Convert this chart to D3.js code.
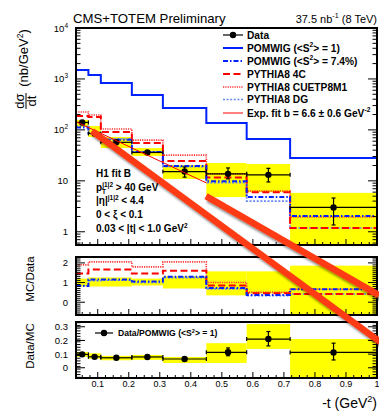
<!DOCTYPE html>
<html><head><meta charset="utf-8">
<script src="https://cdn.jsdelivr.net/npm/d3@7"></script>
<style>
body{margin:0;background:#fff}
svg{display:block}
text{font-family:"Liberation Sans",Arial,Helvetica,sans-serif;fill:#000}
</style>
</head><body>
<svg id="c" width="379" height="414"></svg>
<script>
// ---------------- DATA ----------------
const binEdges   = [0.03,0.07,0.11,0.21,0.31,0.45,0.58,0.72,1.0];
const binCenters = [0.05,0.09,0.16,0.26,0.38,0.52,0.65,0.86];

// main panel: d sigma / dt (nb/GeV^2)
const dataXsec  = [140, 85, 57, 36, 15.2, 13.7, 13.1, 3.0];
const dataErrLo = [132, 80, 54, 33.5, 11.8, 10.9, 9.5, 1.36];
const dataErrHi = [149, 91, 60.5, 39, 18.7, 17.9, 17.6, 4.6];
const sysLo     = [114, 72.6, 44, 30.8, 10.9, 4.8, 6.0, 0.3];
const sysHi     = [157, 119, 72.6, 44, 20.5, 22.4, 21.4, 5.8];
const pomwig1   = [1500, 1197, 832, 485, 269, 137, 66, 28];
const pomwig074 = [112, 88, 64, 37, 19.6, 9.8, 4.8, 2.05];
const py4C      = [188, 180, 91, 55, 24.5, 11.6, 6.0, 1.19];
const pyCUETP   = [225, 196, 104, 63, 32, 13.7, 6.3, 1.95];
const pyDG      = [118, 84, 67, 37, 19, 9.2, 4.0, 1.19];
const fitT      = [0.03, 0.45];
const fitV      = [145, 9.1];

// MC / Data panel
const rPomwig074 = [0.82, 1.15, 1.15, 1.05, 1.3, 0.72, 0.37, 0.66];
const rPy4C      = [1.46, 1.67, 1.67, 1.46, 1.6, 0.85, 0.46, 0.42];
const rPyCUETP   = [1.9, 2.05, 2.05, 1.8, 2.05, 1.0, 0.5, 0.66];
const rPyDG      = [0.85, 1.1, 1.12, 1.0, 1.25, 0.68, 0.33, 0.42];
const rSysLo     = [0.8, 0.8, 0.8, 0.85, 0.7, 0.35, 0.45, -1.0];
const rSysHi     = [1.2, 1.26, 1.26, 1.2, 1.32, 1.57, 1.57, 1.86];

// Data / POMWIG panel
const dmVal   = [0.098, 0.08, 0.073, 0.079, 0.064, 0.113, 0.21, 0.112];
const dmErrLo = [0.091, 0.074, 0.068, 0.074, 0.058, 0.088, 0.16, 0.057];
const dmErrHi = [0.105, 0.086, 0.078, 0.084, 0.07, 0.145, 0.265, 0.18];
const dmSysLo = [0.08, 0.066, 0.055, 0.058, 0.035, 0.035, 0.138, -0.2];
const dmSysHi = [0.116, 0.106, 0.087, 0.094, 0.079, 0.18, 0.32, 0.21];

// annotation strokes (in main-panel data coordinates: |t|, dsigma/dt)
const strokeA = [[0.082, 95], [1.01, 0.0069]];
const strokeB = [[0.449, 5.0], [1.006, 0.057]];

// tick labels
const xTickValues = [0.1,0.2,0.3,0.4,0.5,0.6,0.7,0.8,0.9,1.0];
const xTickLabels = ["0.1","0.2","0.3","0.4","0.5","0.6","0.7","0.8","0.9","1"];
const mainYTickValues = [1,10,100,1000,10000];
const mainYTickBase   = ["1","10","10","10","10"];
const mainYTickExp    = ["","","2","3","4"];
const ratioYTickValues = [0,1,2];
const ratioYTickLabels = ["0","1","2"];
const dmYTickValues = [0,0.1,0.2,0.3];
const dmYTickLabels = ["0","0.1","0.2","0.3"];

const legendLabels = ["Data","POMWIG (<S^{2}> = 1)","POMWIG (<S^{2}> = 7.4%)","PYTHIA8 4C","PYTHIA8 CUETP8M1","PYTHIA8 DG","Exp. fit b = 6.6 ± 0.6 GeV^{-2}"];
const annoLines = ["H1 fit B","p_{T}^{j1|2} > 40 GeV","|η|^{j1|2} < 4.4","0 < ξ < 0.1","0.03 < |t| < 1.0 GeV^{2}"];

// ---------------- LAYOUT ----------------
const X0 = 76, X1 = 377;
const M = {top:28, bot:245}, R = {top:257, bot:315}, D = {top:322, bot:378};
const x  = d3.scaleLinear().domain([0.03,1.0]).range([X0,X1]);
const yM = d3.scaleLog().domain([0.55,1e4]).range([M.bot,M.top]);
const yR = d3.scaleLinear().domain([-0.65,2.3]).range([R.bot,R.top]);
const yD = d3.scaleLinear().domain([-0.075,0.335]).range([D.bot,D.top]);

const styles = {
  pomwig1:   {stroke:"#0022ff", w:2,   dash:null},
  pomwig074: {stroke:"#0022ff", w:2,   dash:"5,2,1.5,2"},
  py4C:      {stroke:"#ff0000", w:2,   dash:"7,3.5"},
  pyCUETP:   {stroke:"#ff3030", w:1.6, dash:"1.2,1.1"},
  pyDG:      {stroke:"#6688ee", w:1.6, dash:"2,1.6"},
  fit:       {stroke:"#ff0000", w:1,   dash:null}
};
const YELLOW = "#ffff00";

const svg = d3.select("#c");
const defs = svg.append("defs");
function mkClip(id, p){
  defs.append("clipPath").attr("id",id).append("rect")
    .attr("x",X0).attr("y",p.top).attr("width",X1-X0).attr("height",p.bot-p.top);
}
mkClip("cm",M); mkClip("cr",R); mkClip("cd",D);
const f = defs.append("filter").attr("id","sh").attr("x","-20%").attr("y","-20%").attr("width","140%").attr("height","140%");
f.append("feGaussianBlur").attr("in","SourceAlpha").attr("stdDeviation",1.3).attr("result","b");
f.append("feOffset").attr("in","b").attr("dx",2).attr("dy",3).attr("result","o");
f.append("feComponentTransfer").attr("in","o").attr("result","o2").append("feFuncA").attr("type","linear").attr("slope",0.45);
const fm = f.append("feMerge"); fm.append("feMergeNode").attr("in","o2"); fm.append("feMergeNode").attr("in","SourceGraphic");

// rich text helper: ^{sup} _{sub}
function rich(sel, str, fs){
  const parts = str.split(/(\^\{[^}]*\}|_\{[^}]*\})/).filter(s=>s.length);
  let shift = 0, prevSubW = 0;
  parts.forEach(p=>{
    let t=p, target=0, size=fs, dx=0;
    if(p.startsWith("^{")){ t=p.slice(2,-1); target=-0.42*fs; size=fs*0.65; dx=-prevSubW; prevSubW=0; }
    else if(p.startsWith("_{")){ t=p.slice(2,-1); target=0.28*fs; size=fs*0.65; prevSubW=t.length*size*0.6; }
    else { prevSubW=0; }
    const ts = sel.append("tspan").attr("dy",target-shift).attr("font-size",size).text(t);
    if(dx) ts.attr("dx",dx);
    shift = target;
  });
}

function stepPts(vals){
  const pts=[]; vals.forEach((v,i)=>{pts.push([binEdges[i],v]); pts.push([binEdges[i+1],v]);}); return pts;
}
function stepLine(g, y, vals, st){
  const p = g.append("path").attr("d", d3.line().x(d=>x(d[0])).y(d=>y(d[1]))(stepPts(vals)))
    .attr("fill","none").attr("stroke",st.stroke).attr("stroke-width",st.w);
  if(st.dash) p.attr("stroke-dasharray",st.dash);
}
function bands(g, y, lo, hi){
  g.selectAll(null).data(lo).join("rect")
    .attr("x",(d,i)=>x(binEdges[i])).attr("width",(d,i)=>x(binEdges[i+1])-x(binEdges[i]))
    .attr("y",(d,i)=>y(hi[i])).attr("height",(d,i)=>y(lo[i])-y(hi[i])).attr("fill",YELLOW);
}
function points(g, y, vals, lo, hi){
  const cap=2;
  vals.forEach((v,i)=>{
    const cx=x(binCenters[i]), cy=y(v), xl=x(binEdges[i]), xr=x(binEdges[i+1]);
    g.append("line").attr("x1",xl).attr("x2",xr).attr("y1",cy).attr("y2",cy).attr("stroke","#000").attr("stroke-width",1.2);
    [xl,xr].forEach(xx=>g.append("line").attr("x1",xx).attr("x2",xx).attr("y1",cy-cap).attr("y2",cy+cap).attr("stroke","#000").attr("stroke-width",1.2));
    g.append("line").attr("x1",cx).attr("x2",cx).attr("y1",y(hi[i])).attr("y2",y(lo[i])).attr("stroke","#000").attr("stroke-width",1.2);
    [y(hi[i]),y(lo[i])].forEach(yy=>g.append("line").attr("x1",cx-cap).attr("x2",cx+cap).attr("y1",yy).attr("y2",yy).attr("stroke","#000").attr("stroke-width",1.2));
    g.append("circle").attr("cx",cx).attr("cy",cy).attr("r",3.2).attr("fill","#000");
  });
}
function frame(p){
  svg.append("rect").attr("x",X0).attr("y",p.top).attr("width",X1-X0).attr("height",p.bot-p.top)
    .attr("fill","none").attr("stroke","#000").attr("stroke-width",2);
}
function hline(x1,x2,y,w){ svg.append("line").attr("x1",x1).attr("x2",x2).attr("y1",y).attr("y2",y).attr("stroke","#000").attr("stroke-width",w||1); }
function vline(xx,y1,y2,w){ svg.append("line").attr("x1",xx).attr("x2",xx).attr("y1",y1).attr("y2",y2).attr("stroke","#000").attr("stroke-width",w||1); }
function xTicks(p){
  d3.range(0.05,1.0001,0.025).forEach(t=>{
    const major = Math.abs(t*10-Math.round(t*10))<1e-6;
    vline(x(t), p.bot, p.bot-(major?6:3), 1);
  });
}
function yTicks(y, vals, majorFn){
  vals.forEach(t=>{
    const L = majorFn(t)?9:4.5;
    hline(X0, X0+L, y(t), 1); hline(X1-L, X1, y(t), 1);
  });
}

// ---------------- MAIN PANEL ----------------
const gM = svg.append("g").attr("clip-path","url(#cm)");
bands(gM, yM, sysLo, sysHi);
stepLine(gM, yM, pyDG, styles.pyDG);
stepLine(gM, yM, pyCUETP, styles.pyCUETP);
stepLine(gM, yM, py4C, styles.py4C);
stepLine(gM, yM, pomwig074, styles.pomwig074);
stepLine(gM, yM, pomwig1, styles.pomwig1);
points(gM, yM, dataXsec, dataErrLo, dataErrHi);
gM.append("path").attr("d", d3.line().x((d,i)=>x(fitT[i])).y((d,i)=>yM(fitV[i]))(fitT))
  .attr("stroke",styles.fit.stroke).attr("stroke-width",styles.fit.w).attr("fill","none");
frame(M);
yTicks(yM, yM.ticks(), t=>Math.abs(Math.log10(t)-Math.round(Math.log10(t)))<1e-9);
xTicks(M);
mainYTickValues.forEach((v,i)=>{
  const t = svg.append("text").attr("x",68).attr("y",yM(v)+3.5).attr("text-anchor","end").attr("font-size",9.5);
  t.append("tspan").text(mainYTickBase[i]);
  if(mainYTickExp[i]) t.append("tspan").attr("dy",-4).attr("font-size",6.5).text(mainYTickExp[i]);
});

// annotation text
annoLines.forEach((s,i)=>{
  const t = svg.append("text").attr("x",96).attr("y",177+i*13.7).attr("font-size",10).attr("font-weight","bold");
  rich(t, s, 10);
});

// legend
const legY = [35,48,61,74,87,99.5,113];
const legStyles = [null, styles.pomwig1, styles.pomwig074, styles.py4C, styles.pyCUETP, styles.pyDG, styles.fit];
legendLabels.forEach((s,i)=>{
  const yy = legY[i];
  if(i===0){
    hline(223,243,yy,1.2);
    svg.append("circle").attr("cx",233).attr("cy",yy).attr("r",3.2).attr("fill","#000");
  } else {
    const st = legStyles[i];
    const l = svg.append("line").attr("x1",223).attr("x2",243).attr("y1",yy).attr("y2",yy)
      .attr("stroke",st.stroke).attr("stroke-width",st.w);
    if(st.dash) l.attr("stroke-dasharray",st.dash);
  }
  const t = svg.append("text").attr("x",247).attr("y",yy+3.6).attr("font-size",10.2).attr("font-weight","bold");
  rich(t, s, 10.2);
});

// ---------------- MC/DATA PANEL ----------------
const gR = svg.append("g").attr("clip-path","url(#cr)");
bands(gR, yR, rSysLo, rSysHi);
stepLine(gR, yR, rPyDG, styles.pyDG);
stepLine(gR, yR, rPyCUETP, styles.pyCUETP);
stepLine(gR, yR, rPy4C, styles.py4C);
stepLine(gR, yR, rPomwig074, styles.pomwig074);
frame(R);
yTicks(yR, d3.range(-0.6,2.301,0.1).map(v=>+v.toFixed(2)), t=>Math.abs(t-Math.round(t))<1e-6);
xTicks(R);
ratioYTickValues.forEach((v,i)=>svg.append("text").attr("x",68).attr("y",yR(v)+3.5).attr("text-anchor","end").attr("font-size",9.5).text(ratioYTickLabels[i]));

// ---------------- DATA/MC PANEL ----------------
const gD = svg.append("g").attr("clip-path","url(#cd)");
bands(gD, yD, dmSysLo, dmSysHi);
points(gD, yD, dmVal, dmErrLo, dmErrHi);
frame(D);
yTicks(yD, d3.range(-0.07,0.3351,0.02).map(v=>+v.toFixed(3)).concat(dmYTickValues), t=>Math.abs(t*10-Math.round(t*10))<1e-6);
xTicks(D);
dmYTickValues.forEach((v,i)=>svg.append("text").attr("x",68).attr("y",yD(v)+3.5).attr("text-anchor","end").attr("font-size",9.5).text(dmYTickLabels[i]));
xTickValues.forEach((v,i)=>svg.append("text").attr("x",x(v)).attr("y",387).attr("text-anchor","middle").attr("font-size",9).text(xTickLabels[i]));
// bottom legend
hline(95,113,333,1.2);
svg.append("circle").attr("cx",104).attr("cy",333).attr("r",3.2).attr("fill","#000");
{ const t = svg.append("text").attr("x",118).attr("y",336.3).attr("font-size",8.6).attr("font-weight","bold");
  rich(t, "Data/POMWIG (<S^{2}> = 1)", 8.6); }

// ---------------- TITLES ----------------
svg.append("text").attr("x",73).attr("y",23).attr("font-size",13.2).text("CMS+TOTEM Preliminary");
{ const t = svg.append("text").attr("x",377).attr("y",23).attr("text-anchor","end").attr("font-size",11);
  rich(t, "37.5 nb^{-1} (8 TeV)", 11); }
{ const t = svg.append("text").attr("x",377).attr("y",408).attr("text-anchor","end").attr("font-size",14);
  rich(t, "-t (GeV^{2})", 14); }
// y titles (rotated)
{ const t = svg.append("text").attr("transform","translate(28,58) rotate(-90)").attr("text-anchor","middle").attr("font-size",13);
  rich(t, "(nb/GeV^{2})", 13); }
svg.append("text").attr("transform","translate(24,101) rotate(-90)").attr("text-anchor","middle").attr("font-size",13).text("dσ");
svg.append("text").attr("transform","translate(36,101) rotate(-90)").attr("text-anchor","middle").attr("font-size",13).text("dt");
svg.append("line").attr("x1",26).attr("x2",26).attr("y1",93).attr("y2",109).attr("stroke","#000").attr("stroke-width",1);
svg.append("text").attr("transform","translate(34,279) rotate(-90)").attr("text-anchor","middle").attr("font-size",11.5).text("MC/Data");
svg.append("text").attr("transform","translate(34,346) rotate(-90)").attr("text-anchor","middle").attr("font-size",11.5).text("Data/MC");

// ---------------- ANNOTATION STROKES ----------------
[strokeA, strokeB].forEach(s=>{
  svg.append("line").attr("x1",x(s[0][0])).attr("y1",yM(s[0][1])).attr("x2",x(s[1][0])).attr("y2",yM(s[1][1]))
    .attr("stroke","#ff3a12").attr("stroke-width",6.5).attr("filter","url(#sh)");
});
</script>
</body></html>
